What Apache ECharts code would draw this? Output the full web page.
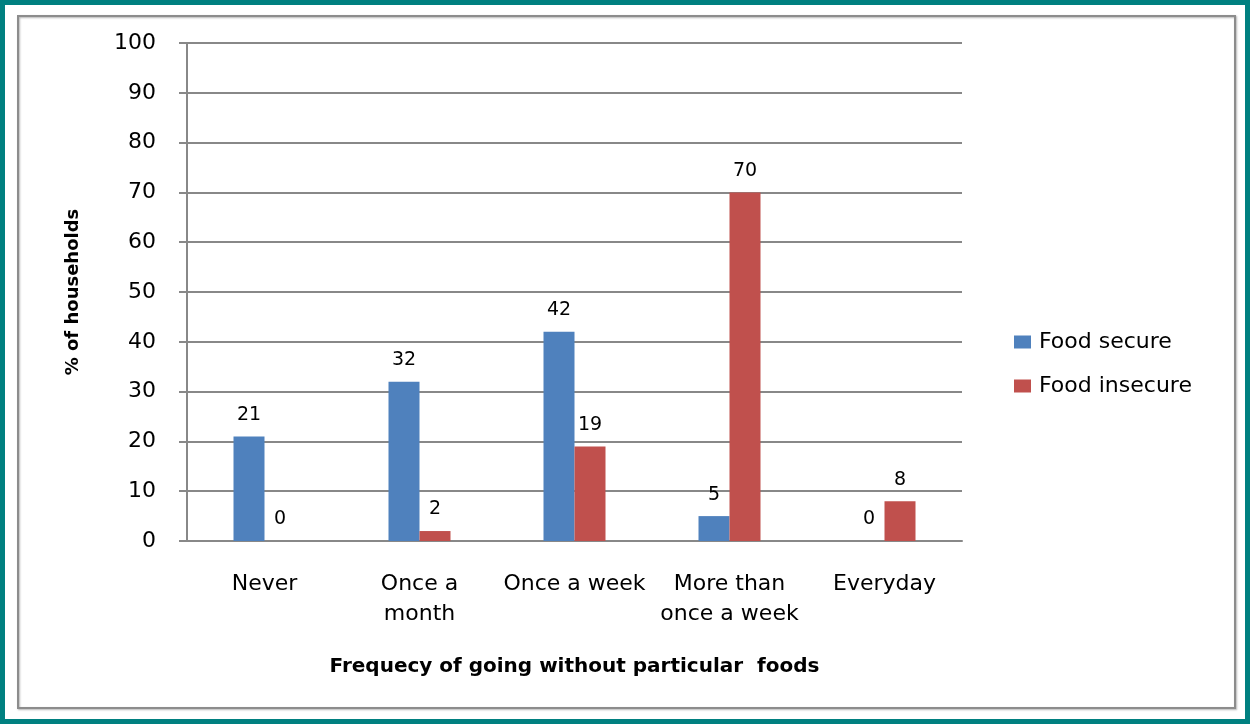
<!DOCTYPE html>
<html><head><meta charset="utf-8">
<script src="https://cdn.jsdelivr.net/npm/echarts@6/dist/echarts.min.js"></script>
<style>html,body{margin:0;padding:0;background:#fff}#c{width:1250px;height:724px}</style>
</head><body><div id="c"></div>
<script>
const categories = ['Never', 'Once a\nmonth', 'Once a week', 'More than\nonce a week', 'Everyday'];
const foodSecure = [21, 32, 42, 5, 0];
const foodInsecure = [0, 2, 19, 70, 8];
const seriesNames = ['Food secure', 'Food insecure'];
const yTicks = { min: 0, max: 100, interval: 10 };

const FONT = 'DejaVu Sans';
const chart = echarts.init(document.getElementById('c'), null, { renderer: 'canvas' });
chart.setOption({
  animation: false,
  backgroundColor: '#fff',
  textStyle: { fontFamily: FONT, color: '#000' },
  graphic: [
    { type: 'rect', shape: { x: 2.5, y: 2.5, width: 1245, height: 719 }, style: { fill: 'none', stroke: '#008080', lineWidth: 5 }, z: 100 },
    { type: 'rect', shape: { x: 18, y: 16, width: 1217, height: 692 }, style: { fill: 'none', stroke: '#8c8c8c', lineWidth: 2, shadowBlur: 2, shadowColor: 'rgba(0,0,0,0.3)', shadowOffsetX: 1, shadowOffsetY: 1 }, z: 100 }
  ],
  grid: { left: 187, right: 288, top: 43, bottom: 183, containLabel: false },
  legend: {
    orient: 'vertical', left: 1009, top: 326,
    itemWidth: 17, itemHeight: 13, itemGap: 22,
    icon: 'rect',
    textStyle: { fontSize: 22, fontFamily: FONT, color: '#000', padding: [0, 0, 0, 3] },
    data: seriesNames
  },
  xAxis: {
    type: 'category', data: categories,
    axisLine: { show: true, lineStyle: { color: '#888', width: 2 } },
    axisTick: { show: false },
    axisLabel: { fontSize: 22, color: '#000', margin: 28, lineHeight: 30, interval: 0 },
    name: 'Frequecy of going without particular  foods',
    nameLocation: 'middle', nameGap: 116,
    nameTextStyle: { fontSize: 20, fontWeight: 'bold', color: '#000' }
  },
  yAxis: {
    type: 'value', min: yTicks.min, max: yTicks.max, interval: yTicks.interval,
    axisLine: { show: true, lineStyle: { color: '#888', width: 2 } },
    axisTick: { show: true, length: 8, lineStyle: { color: '#888', width: 2 } },
    splitLine: { show: true, lineStyle: { color: '#888', width: 2 } },
    axisLabel: { fontSize: 22, color: '#000', margin: 31 },
    name: '% of households', nameLocation: 'middle', nameGap: 105, nameRotate: 90,
    nameTextStyle: { fontSize: 18, fontWeight: 'bold', color: '#000' }
  },
  series: [
    {
      name: seriesNames[0], type: 'bar', data: foodSecure,
      barWidth: 31, barGap: '0%',
      itemStyle: { color: '#4F81BD' },
      label: { show: true, position: 'top', distance: 12, fontSize: 19, color: '#000' }
    },
    {
      name: seriesNames[1], type: 'bar', data: foodInsecure,
      barWidth: 31,
      itemStyle: { color: '#C0504D' },
      label: { show: true, position: 'top', distance: 12, fontSize: 19, color: '#000' }
    }
  ]
});
</script>
</body></html>
